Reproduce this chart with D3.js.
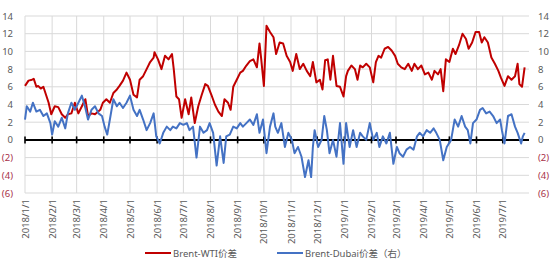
<!DOCTYPE html>
<html>
<head>
<meta charset="utf-8">
<script src="https://cdn.jsdelivr.net/npm/d3@7"></script>
<style>
body { margin: 0; background: #fff; }
svg text { font-family: "Noto Sans", "Noto Sans CJK SC", sans-serif; }
</style>
</head>
<body>
<svg id="chart" width="550" height="266"></svg>
<script>
// Brent-WTI spread (left axis)
const wtiDates = [
  "2018-01-01","2018-01-05","2018-01-09","2018-01-11","2018-01-14","2018-01-16","2018-01-19","2018-01-22","2018-01-25","2018-01-28",
  "2018-01-31","2018-02-04","2018-02-08","2018-02-12","2018-02-16","2018-02-19","2018-02-23","2018-02-27","2018-03-03","2018-03-07",
  "2018-03-11","2018-03-14","2018-03-18","2018-03-22","2018-03-28","2018-03-31","2018-04-04","2018-04-08","2018-04-12","2018-04-16",
  "2018-04-19","2018-04-23","2018-04-27","2018-05-01","2018-05-05","2018-05-09","2018-05-12","2018-05-16","2018-05-20","2018-05-24",
  "2018-05-28","2018-05-29","2018-06-02","2018-06-06","2018-06-10","2018-06-14","2018-06-18","2018-06-20","2018-06-23","2018-06-26",
  "2018-06-29","2018-07-03","2018-07-07","2018-07-10","2018-07-14","2018-07-18","2018-07-22","2018-07-26","2018-07-29","2018-08-02",
  "2018-08-06","2018-08-10","2018-08-14","2018-08-17","2018-08-21","2018-08-24","2018-08-27","2018-08-31","2018-09-04","2018-09-07",
  "2018-09-11","2018-09-15","2018-09-19","2018-09-23","2018-09-26","2018-09-28","2018-10-01","2018-10-04","2018-10-08","2018-10-12",
  "2018-10-15","2018-10-19","2018-10-23","2018-10-27","2018-10-31","2018-11-03","2018-11-07","2018-11-11","2018-11-15","2018-11-19",
  "2018-11-23","2018-11-26","2018-11-30","2018-12-04","2018-12-07","2018-12-10","2018-12-13","2018-12-16","2018-12-19","2018-12-23",
  "2018-12-27","2018-12-31","2019-01-03","2019-01-05","2019-01-09","2019-01-13","2019-01-16","2019-01-19","2019-01-22","2019-01-26",
  "2019-01-30","2019-02-03","2019-02-06","2019-02-09","2019-02-12","2019-02-16","2019-02-20","2019-02-24","2019-02-28","2019-03-03",
  "2019-03-07","2019-03-11","2019-03-15","2019-03-19","2019-03-22","2019-03-26","2019-03-30","2019-04-03","2019-04-07","2019-04-11",
  "2019-04-14","2019-04-18","2019-04-21","2019-04-24","2019-04-27","2019-05-01","2019-05-05","2019-05-08","2019-05-12","2019-05-16",
  "2019-05-20","2019-05-23","2019-05-27","2019-05-31","2019-06-04","2019-06-07","2019-06-10","2019-06-14","2019-06-18","2019-06-22",
  "2019-06-26","2019-06-29","2019-07-03","2019-07-07","2019-07-11","2019-07-15","2019-07-18","2019-07-20","2019-07-23","2019-07-26"
]
const wtiSpread = [
  6.1,6.7,6.8,6.9,6.0,6.1,5.8,6.0,5.1,4.2,
  2.9,3.8,3.7,2.9,2.5,2.9,3.0,4.2,3.0,3.8,
  4.6,2.7,3.0,2.9,3.4,4.2,4.6,4.2,5.3,5.7,
  6.1,6.7,7.6,6.8,5.1,4.8,6.8,7.2,8.0,8.8,
  9.3,9.9,9.1,8.0,9.5,9.1,9.7,8.0,4.9,4.6,
  2.5,4.6,2.9,4.8,1.9,3.8,5.1,6.3,6.1,5.1,
  4.0,3.2,2.7,4.6,4.2,3.4,6.0,6.8,7.6,7.8,
  8.4,8.9,9.1,8.2,10.9,9.1,6.1,12.9,12.2,11.6,
  9.7,11.0,10.9,9.5,8.8,7.8,9.7,8.0,8.6,7.8,
  7.2,8.8,6.5,6.8,5.7,9.0,9.1,6.8,9.5,6.1,
  6.0,4.9,7.2,7.8,8.4,8.0,6.8,8.4,8.2,8.6,
  8.2,6.5,8.8,9.5,9.3,10.3,10.5,10.1,9.5,8.6,
  8.2,8.0,8.6,7.8,8.6,8.0,8.4,7.4,7.6,6.8,
  7.8,7.4,8.0,5.5,9.1,8.8,10.3,9.7,10.7,12.0,
  11.4,10.3,11.0,12.2,12.2,11.0,11.6,11.0,9.3,8.6,
  7.8,7.0,6.1,7.2,6.8,7.2,8.6,6.3,6.0,8.2
]

// Brent-Dubai spread (right axis)
const dubaiDates = [
  "2018-01-01","2018-01-03","2018-01-07","2018-01-10","2018-01-14","2018-01-18","2018-01-22","2018-01-26","2018-01-30","2018-02-01",
  "2018-02-04","2018-02-08","2018-02-12","2018-02-16","2018-02-19","2018-02-23","2018-02-27","2018-03-03","2018-03-07","2018-03-11",
  "2018-03-14","2018-03-18","2018-03-22","2018-03-26","2018-03-30","2018-04-02","2018-04-05","2018-04-08","2018-04-12","2018-04-16",
  "2018-04-19","2018-04-23","2018-04-27","2018-05-01","2018-05-05","2018-05-09","2018-05-12","2018-05-16","2018-05-20","2018-05-24",
  "2018-05-28","2018-05-31","2018-06-04","2018-06-08","2018-06-12","2018-06-16","2018-06-19","2018-06-23","2018-06-27","2018-07-01",
  "2018-07-05","2018-07-08","2018-07-12","2018-07-16","2018-07-20","2018-07-24","2018-07-28","2018-07-31","2018-08-04","2018-08-08",
  "2018-08-12","2018-08-16","2018-08-19","2018-08-23","2018-08-27","2018-08-31","2018-09-04","2018-09-07","2018-09-11","2018-09-15",
  "2018-09-19","2018-09-23","2018-09-26","2018-09-30","2018-10-04","2018-10-08","2018-10-12","2018-10-14","2018-10-17","2018-10-21",
  "2018-10-25","2018-10-29","2018-11-02","2018-11-05","2018-11-09","2018-11-13","2018-11-17","2018-11-21","2018-11-24","2018-11-26",
  "2018-11-28","2018-12-02","2018-12-06","2018-12-09","2018-12-12","2018-12-15","2018-12-19","2018-12-23","2018-12-27","2018-12-31",
  "2019-01-03","2019-01-07","2019-01-11","2019-01-15","2019-01-19","2019-01-22","2019-01-26","2019-01-30","2019-02-03","2019-02-07",
  "2019-02-10","2019-02-14","2019-02-18","2019-02-22","2019-02-26","2019-03-02","2019-03-05","2019-03-09","2019-03-13","2019-03-17",
  "2019-03-21","2019-03-25","2019-03-28","2019-04-01","2019-04-05","2019-04-09","2019-04-13","2019-04-16","2019-04-20","2019-04-24",
  "2019-04-28","2019-05-03","2019-05-07","2019-05-11","2019-05-15","2019-05-19","2019-05-22","2019-05-25","2019-05-28","2019-06-01",
  "2019-06-05","2019-06-08","2019-06-12","2019-06-16","2019-06-20","2019-06-24","2019-06-28","2019-06-30","2019-07-03","2019-07-07",
  "2019-07-11","2019-07-15","2019-07-18","2019-07-22","2019-07-24","2019-07-26"
]
const dubaiSpread = [
  2.3,3.8,3.2,4.2,3.2,3.4,2.7,3.0,1.9,0.6,
  2.1,1.5,2.5,1.3,3.0,4.2,3.4,4.2,5.0,3.6,
  2.3,3.4,3.8,3.0,2.7,1.5,0.6,2.3,4.6,3.8,
  4.2,3.6,4.2,5.0,3.4,2.7,3.4,2.3,1.1,1.9,
  3.0,0.4,-0.4,0.8,1.5,1.1,1.5,1.3,1.9,1.7,
  1.9,1.1,1.5,-2.0,1.5,0.8,1.1,1.9,0.8,-2.9,
  0.4,-2.6,0.4,0.6,1.5,1.3,1.9,1.5,1.9,2.3,
  1.7,2.9,0.8,2.3,-1.5,1.5,3.0,1.5,0.8,1.9,
  -0.8,0.8,0.0,-1.5,-0.8,-1.9,-4.2,-2.3,-4.2,-0.8,
  1.1,-0.8,0.0,2.7,1.1,-1.5,0.0,-1.9,1.9,-2.7,
  1.9,-0.8,1.1,-0.8,0.8,0.4,0.0,1.9,0.0,0.8,
  -0.8,0.4,-0.4,0.8,-2.7,-0.8,-1.5,-1.9,-1.1,-0.8,
  -1.1,0.4,0.8,0.4,1.1,0.8,1.3,0.8,0.0,-2.3,
  -0.8,0.0,2.3,1.5,2.7,1.5,1.1,-0.4,1.9,2.3,
  3.4,3.6,3.0,3.2,2.7,1.9,2.3,1.1,-0.4,2.7,
  2.9,1.5,0.8,-0.4,0.4,0.8
]

const yTicks = [14, 12, 10, 8, 6, 4, 2, 0, -2, -4, -6]
const monthTicks = [
  "2018-01-01","2018-02-01","2018-03-01","2018-04-01","2018-05-01","2018-06-01","2018-07-01","2018-08-01","2018-09-01","2018-10-01",
  "2018-11-01","2018-12-01","2019-01-01","2019-02-01","2019-03-01","2019-04-01","2019-05-01","2019-06-01","2019-07-01"
]
const axisStart = "2018-01-01"
const axisEnd = "2019-07-31"

const legendNames = ["Brent-WTI价差", "Brent-Dubai价差（右）"]
const colors = ["#c00000", "#4472c4"]

const parse = d3.timeParse("%Y-%m-%d")
const fmtTick = d3.timeFormat("%Y/%-m/%-d")
const fmtNum = d => d < 0 ? "(" + (-d) + ")" : String(d)

const wti = wtiDates.map((d, i) => ({date: parse(d), value: wtiSpread[i]}))
const dubai = dubaiDates.map((d, i) => ({date: parse(d), value: dubaiSpread[i]}))
const months = monthTicks.map(parse)

const svg = d3.select("#chart")
const plotLeft = 25, plotRight = 529, plotTop = 16, plotBottom = 193

const x = d3.scaleTime().domain([parse(axisStart), parse(axisEnd)]).range([plotLeft, plotRight])
const yLeft = d3.scaleLinear().domain([-6, 14]).range([plotBottom, plotTop])
const yRight = d3.scaleLinear().domain([-6, 14]).range([plotBottom, plotTop])

// gridlines
svg.append("g")
    .selectAll("line")
    .data(yTicks)
    .enter()
    .append("line")
    .attr("x1", plotLeft).attr("x2", plotRight)
    .attr("y1", d => yLeft(d)).attr("y2", d => yLeft(d))
    .attr("stroke", "#d9d9d9").attr("stroke-width", 1)
svg.append("g")
    .selectAll("line")
    .data(months)
    .enter()
    .append("line")
    .attr("x1", d => x(d)).attr("x2", d => x(d))
    .attr("y1", plotTop).attr("y2", plotBottom)
    .attr("stroke", "#d9d9d9").attr("stroke-width", 1)

// y axes
let axL = svg.append("g")
    .attr("transform", `translate(${plotLeft - 9},0)`)
    .call(d3.axisLeft(yLeft).tickValues(yTicks).tickFormat(fmtNum).tickSize(0))
let axR = svg.append("g")
    .attr("transform", `translate(${plotRight + 6},0)`)
    .call(d3.axisRight(yRight).tickValues(yTicks).tickFormat(fmtNum).tickSize(0))
;[axL, axR].forEach(ax => {
    ax.select(".domain").remove()
    ax.selectAll("text")
        .attr("font-size", 9.5)
        .attr("fill", d => d < 0 ? "#a8324a" : "#595959")
        .attr("font-family", "Noto Sans, sans-serif")
})

// zero line with month ticks
svg.append("line")
    .attr("x1", plotLeft).attr("x2", plotRight)
    .attr("y1", yLeft(0)).attr("y2", yLeft(0))
    .attr("stroke", "#000").attr("stroke-width", 2)
svg.append("g")
    .selectAll("line")
    .data(months)
    .enter()
    .append("line")
    .attr("x1", d => x(d)).attr("x2", d => x(d))
    .attr("y1", yLeft(0) - 3.5).attr("y2", yLeft(0) + 3.5)
    .attr("stroke", "#000").attr("stroke-width", 1.6)

// x labels
svg.append("g")
    .selectAll("text")
    .data(months)
    .enter()
    .append("text")
    .attr("transform", d => `translate(${x(d) + 3.5},${plotBottom + 6}) rotate(-90)`)
    .attr("text-anchor", "end")
    .attr("font-size", 9.5)
    .attr("fill", "#595959")
    .text(d => fmtTick(d))

// series
const lineL = d3.line().x(d => x(d.date)).y(d => yLeft(d.value))
const lineR = d3.line().x(d => x(d.date)).y(d => yRight(d.value))
svg.append("path")
    .datum(wti)
    .attr("d", lineL)
    .attr("fill", "none")
    .attr("stroke", colors[0])
    .attr("stroke-width", 2)
    .attr("stroke-linejoin", "round")
svg.append("path")
    .datum(dubai)
    .attr("d", lineR)
    .attr("fill", "none")
    .attr("stroke", colors[1])
    .attr("stroke-width", 2)
    .attr("stroke-linejoin", "round")

// legend
const legendX = [145, 277]
let lg = svg.append("g")
    .selectAll("g")
    .data(legendNames)
    .enter()
    .append("g")
    .attr("transform", (d, i) => `translate(${legendX[i]},253)`)
lg.append("line")
    .attr("x1", 0).attr("x2", 26)
    .attr("stroke", (d, i) => colors[i])
    .attr("stroke-width", 2)
lg.append("text")
    .attr("x", 28).attr("y", 3.5)
    .attr("font-size", 9.5)
    .attr("fill", "#595959")
    .text(d => d)
</script>
</body>
</html>
